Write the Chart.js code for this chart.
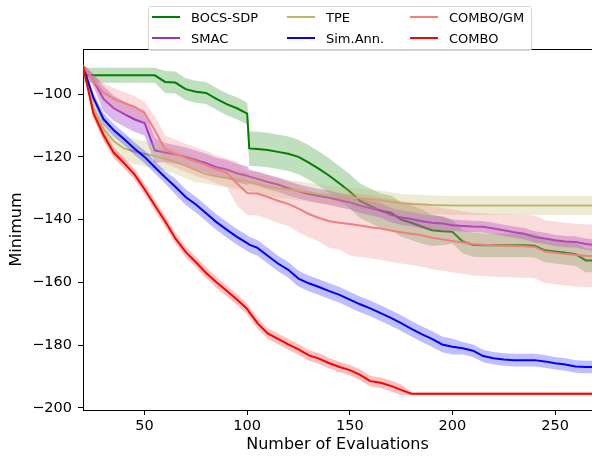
<!DOCTYPE html>
<html>
<head>
<meta charset="utf-8">
<script src="https://cdn.jsdelivr.net/npm/chart.js@4/dist/chart.umd.min.js"></script>
<style>
  body { margin: 0; background: #fff; }
  #wrap { position: relative; width: 592px; height: 459px; }
  #legend {
    position: absolute; left: 148px; top: 6px; width: 382px; height: 43px;
    border: 1px solid #d6d6d6; border-radius: 3px;
    background: rgba(255, 255, 255, 0.8);
    font: 13px "DejaVu Sans", sans-serif; color: #000;
  }
  .item { position: absolute; height: 16px; display: flex; align-items: center; white-space: nowrap; }
  .item i { display: inline-block; width: 28px; height: 2px; margin-right: 11px; }
</style>
</head>
<body>
<div id="wrap">
  <canvas id="chart" width="592" height="459"></canvas>
  <div id="legend"></div>
</div>
<script>
// number of evaluations (shared x grid)
const evals = [20, 25, 30, 35, 40, 45, 50, 55, 60, 65, 70, 75, 80, 85, 90, 95, 100, 101,
  105, 110, 115, 120, 125, 130, 135, 140, 145, 150, 155, 160, 165, 170, 175, 180, 185, 190,
  195, 200, 205, 210, 215, 220, 225, 230, 235, 240, 245, 250, 255, 260, 265, 270];

// mean of best value found so far
const bocsSdp = [-94, -94, -94, -94, -94, -94, -94, -94, -96.1, -96.3, -98.4, -99.2, -99.6, -101.5, -103.2, -104.5, -106.2, -117.3,
  -117.5, -117.8, -118.4, -119, -120, -121.8, -123.8, -126, -128.5, -131, -134, -135.6, -137.2, -137.8, -140, -141, -142.2, -143.4,
  -143.7, -143.9, -147, -148, -148.2, -148.2, -148.2, -148.2, -148.2, -148.3, -149.8, -150.2, -150.6, -151, -153, -153];
const smac = [-91, -95.5, -101.5, -104.5, -106.3, -108, -109.2, -117.9, -118.6, -119.2, -120, -121, -122, -123.3, -124, -125.2, -126, -126.3,
  -127, -128, -128.8, -130, -131, -131.8, -132.5, -133, -133.8, -134.5, -135.6, -136.3, -137, -138.5, -139.3, -139.8, -140.5, -141,
  -141.2, -141.8, -142, -142.2, -142.3, -142.8, -143.4, -144, -144.5, -145.5, -146, -146.6, -147, -147.1, -147.8, -148.2];
const tpe = [-91, -104, -111, -115, -117.3, -118.3, -119, -119.7, -120.5, -121.5, -122.8, -124.2, -125.5, -126.2, -126.7, -127.2, -127.8, -127.9,
  -128.6, -129.4, -130, -130.4, -130.8, -131.3, -131.8, -132.2, -132.5, -132.8, -133.2, -133.5, -133.8, -134.3, -134.8, -135, -135.1, -135.3,
  -135.4, -135.5, -135.5, -135.5, -135.5, -135.5, -135.5, -135.5, -135.5, -135.5, -135.5, -135.5, -135.5, -135.5, -135.5, -135.5];
const simAnn = [-91, -101, -108, -111.5, -114.3, -117.3, -120, -123.3, -126.5, -129.5, -132.8, -135.2, -138, -140.8, -143.2, -145.5, -147.5, -148,
  -149, -151.5, -154, -156, -158.8, -160.3, -161.5, -162.8, -164, -165.5, -167, -168.3, -169.8, -171.3, -173, -174.8, -176.5, -178,
  -179.8, -180.5, -181, -181.8, -183.5, -184.2, -184.6, -184.8, -184.8, -184.8, -185.2, -185.8, -186.2, -186.8, -187, -187];
const comboGm = [-91, -95.5, -99.5, -101.5, -102.8, -104, -106, -111.5, -117.6, -119, -120.3, -121.5, -122.6, -124, -125, -128.5, -131.5, -131.6,
  -131.7, -132.8, -134, -135, -136.5, -138.2, -139.5, -140.5, -141, -141.4, -141.9, -142.4, -142.8, -143.5, -144, -144.5, -145, -145.8,
  -146.3, -146.8, -147.3, -147.8, -148, -148.2, -148.3, -148.4, -148.5, -148.7, -150.2, -150.6, -151, -151.3, -151.5, -151.6];
const combo = [-91, -106, -113, -118.7, -122, -125.5, -130.3, -135.5, -140.5, -146, -150.3, -153.6, -157, -160, -162.7, -165.5, -168.5, -169.5,
  -173, -176.3, -178, -179.8, -181.4, -183.3, -184.3, -185.8, -187, -188, -189.5, -191.5, -192, -193, -194.3, -195.5, -195.5, -195.5,
  -195.5, -195.5, -195.5, -195.5, -195.5, -195.5, -195.5, -195.5, -195.5, -195.5, -195.5, -195.5, -195.5, -195.5, -195.5, -195.5];

// half width of the shaded band around each mean
const bocsSdpSpread = [2.4, 2.4, 2.4, 2.4, 2.4, 2.4, 2.4, 2.4, 3.5, 3.5, 3.5, 3.5, 3.5, 3.5, 3.5, 3.5, 3.5, 5.5,
  5.5, 5.5, 5.5, 5.5, 5.5, 5.5, 5.5, 5.5, 5.5, 5.5, 5.5, 5.5, 5.5, 5.5, 5.5, 5.5, 5.5, 5,
  4.5, 3.8, 3.8, 3.8, 3.8, 3.8, 3.8, 3.8, 3.8, 3.8, 3.8, 3.8, 3.8, 3.8, 3.8, 3.8];
const smacSpread = [0.5, 2, 4, 4, 4, 4, 4, 4, 3, 3, 3, 3, 3, 3, 3, 3, 3, 2.3,
  2.3, 2.3, 2.3, 2.3, 2.3, 2.3, 2.3, 2.3, 2.3, 2.3, 2.3, 2.3, 2.3, 2.3, 2.3, 2.3, 2.3, 2.3,
  2.3, 1.8, 1.8, 1.8, 1.8, 1.8, 1.8, 1.8, 1.8, 1.8, 1.8, 1.8, 1.8, 1.8, 1.8, 1.8];
const tpeSpread = [0.5, 3, 4, 4, 4, 4, 4, 4, 4, 4, 4, 4, 3, 3, 3, 3, 3, 3,
  3, 3, 3, 3, 3, 3, 3, 3, 3, 3, 3, 3, 3, 3, 3, 3, 3, 3,
  3, 3, 3, 3, 3, 3, 3, 3, 3, 3, 3, 3, 3, 3, 3, 3];
const simAnnSpread = [0.5, 1.5, 2, 2, 2, 2, 2, 2, 2, 2.5, 2.5, 2.5, 2.5, 2.5, 2.5, 2.5, 2.5, 2.5,
  2.5, 2.5, 2.5, 2.5, 2.5, 2.5, 2.5, 2.5, 2.5, 2.5, 2.5, 2.5, 2.5, 2.5, 2.5, 2.5, 2.5, 2.5,
  2.5, 2.5, 2, 2, 2, 2, 2, 2, 2, 2, 2, 2, 2, 2, 2, 2];
const comboGmSpread = [0.5, 2, 3, 3.5, 3.5, 3.5, 3.5, 4.5, 4.5, 4.5, 4.5, 4.5, 4.5, 4.5, 4.5, 7, 7, 7,
  7, 7, 7, 7, 7.5, 7.5, 7.5, 8.5, 8.5, 10, 10, 10, 10, 10, 10, 10, 10, 10,
  10, 10, 10, 10, 10, 10, 10, 10, 10, 10, 10, 10, 10, 10, 10, 10];
const comboSpread = [0.5, 1.5, 1.7, 1.7, 1.7, 1.7, 1.7, 1.7, 1.7, 1.7, 1.7, 1.7, 1.7, 1.7, 1.7, 1.7, 1.7, 1.7,
  1.7, 1.7, 1.7, 1.7, 1.7, 1.7, 1.7, 1.7, 1.7, 1.7, 1.7, 1.7, 1.7, 1.7, 1.7, 0.4, 0.4, 0.4,
  0.4, 0.4, 0.4, 0.4, 0.4, 0.4, 0.4, 0.4, 0.4, 0.4, 0.4, 0.4, 0.4, 0.4, 0.4, 0.4];

const xTicks = [50, 100, 150, 200, 250];
const yTicks = [-200, -180, -160, -140, -120, -100];

// plotting order = legend order (column-wise)
const series = [
  { label: 'BOCS-SDP', mean: bocsSdp, spread: bocsSdpSpread, color: '#008000', fillColor: 'rgba(0,128,0,0.25)' },
  { label: 'SMAC', mean: smac, spread: smacSpread, color: '#9932cc', fillColor: 'rgba(153,50,204,0.35)' },
  { label: 'TPE', mean: tpe, spread: tpeSpread, color: '#bdb76b', fillColor: 'rgba(189,183,107,0.28)' },
  { label: 'Sim.Ann.', mean: simAnn, spread: simAnnSpread, color: '#0000ff', fillColor: 'rgba(0,0,255,0.25)' },
  { label: 'COMBO/GM', mean: comboGm, spread: comboGmSpread, color: '#f08080', fillColor: 'rgba(240,128,128,0.28)' },
  { label: 'COMBO', mean: combo, spread: comboSpread, color: '#ff0000', fillColor: 'rgba(255,0,0,0.25)' }
];

const font = 'DejaVu Sans';
const datasets = [];
series.forEach((s, k) => {
  const pts = sign => evals.map((x, i) => ({ x: x, y: s.mean[i] + sign * s.spread[i] }));
  datasets.push({
    data: pts(-1), borderWidth: 0, borderColor: 'rgba(0,0,0,0)', pointRadius: 0, fill: false, order: 100 - 10 * k
  });
  datasets.push({
    data: pts(1), borderWidth: 0, borderColor: 'rgba(0,0,0,0)', pointRadius: 0,
    fill: 3 * k, backgroundColor: s.fillColor, order: 100 - 10 * k
  });
  datasets.push({
    label: s.label, data: pts(0), borderColor: s.color, borderWidth: 2, pointRadius: 0,
    fill: false, order: 95 - 10 * k
  });
});

// top spine of the axes box
const topSpine = {
  id: 'topSpine',
  afterDraw(chart) {
    const { ctx, chartArea } = chart;
    ctx.save();
    ctx.strokeStyle = '#000';
    ctx.lineWidth = 1;
    ctx.beginPath();
    ctx.moveTo(chartArea.left, chartArea.top + 0.5);
    ctx.lineTo(chartArea.right, chartArea.top + 0.5);
    ctx.stroke();
    ctx.restore();
  }
};

new Chart(document.getElementById('chart'), {
  type: 'line',
  data: { datasets: datasets },
  plugins: [topSpine],
  options: {
    responsive: false,
    animation: false,
    layout: { padding: { top: 49, left: 0, right: 0, bottom: 0 } },
    plugins: { legend: { display: false }, tooltip: { enabled: false } },
    elements: { line: { tension: 0 } },
    scales: {
      x: {
        type: 'linear', min: 20, max: 268,
        border: { display: true, color: '#000', width: 1 },
        grid: { drawOnChartArea: false, drawTicks: true, tickLength: 5, tickColor: '#000' },
        ticks: { color: '#000', font: { family: font, size: 14.5 }, padding: 3, maxRotation: 0 },
        afterBuildTicks: scale => { scale.ticks = xTicks.map(v => ({ value: v })); },
        afterFit: scale => { scale.height = 49; },
        title: {
          display: true, text: 'Number of Evaluations', color: '#000',
          font: { family: font, size: 16 }, padding: { top: 0, bottom: 5 }
        }
      },
      y: {
        type: 'linear', min: -200.7, max: -85.6,
        border: { display: true, color: '#000', width: 1 },
        grid: { drawOnChartArea: false, drawTicks: true, tickLength: 5, tickColor: '#000' },
        ticks: {
          color: '#000', font: { family: font, size: 14.5 }, padding: 6,
          callback: v => String(v).replace('-', '\u2212')
        },
        afterBuildTicks: scale => { scale.ticks = yTicks.map(v => ({ value: v })); },
        afterFit: scale => { scale.width = 83; },
        title: {
          display: true, text: 'Minimum', color: '#000',
          font: { family: font, size: 16 }, padding: { top: 7, bottom: 0 }
        }
      }
    }
  }
});

// legend box, three columns filled top to bottom
const legend = document.getElementById('legend');
const colLeft = [3, 138, 261];
const rowTop = [2, 23];
series.forEach((s, k) => {
  const item = document.createElement('div');
  item.className = 'item';
  item.style.left = colLeft[Math.floor(k / 2)] + 'px';
  item.style.top = rowTop[k % 2] + 'px';
  const swatch = document.createElement('i');
  swatch.style.background = s.color;
  item.appendChild(swatch);
  item.appendChild(document.createTextNode(s.label));
  legend.appendChild(item);
});
</script>
</body>
</html>
